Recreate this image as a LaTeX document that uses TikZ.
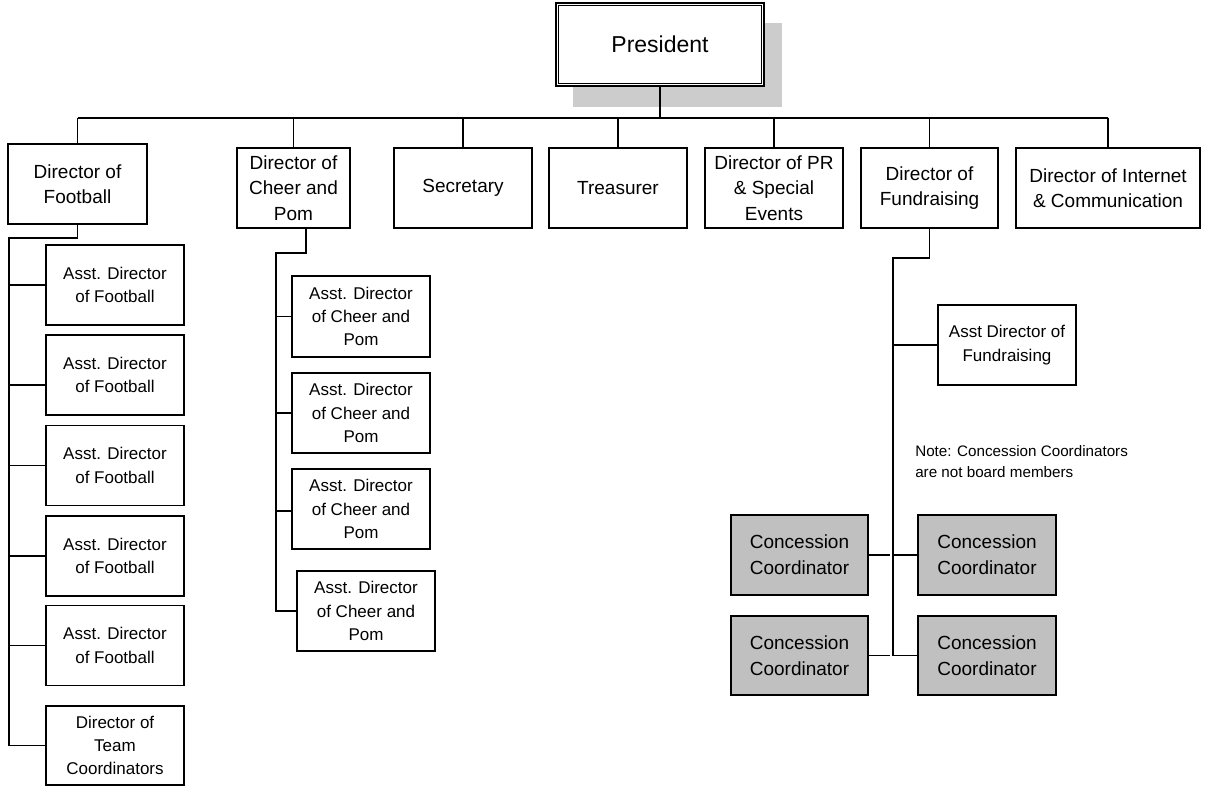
\documentclass[tikz,border=0pt]{standalone}
\usepackage{fontspec}
\setmainfont{Liberation Sans}
\usetikzlibrary{calc}
\definecolor{ccgray}{HTML}{C0C0C0}
\definecolor{shadowgray}{HTML}{CCCCCC}
\begin{document}
\begin{tikzpicture}[x=0.75pt,y=-0.75pt,
  wh/.style 2 args={minimum width=#1*0.75pt, minimum height=#2*0.75pt},
  box/.style={draw, line width=0.8pt, align=center, inner sep=0pt, fill=white,
    font=\fontsize{14.25}{19}\selectfont},
  subbox/.style={box, font=\fontsize{12.75}{17.5}\selectfont},
  conc/.style={box, fill=ccgray, font=\fontsize{14.25}{19.3}\selectfont},
  conn/.style={line width=0.8pt}]
\useasboundingbox (0,0) rectangle (1206,786);
% president with shadow
\fill[shadowgray] (573,23) rectangle (782,107);
\node[box, wh={208}{83}, font=\fontsize{17.25}{20}\selectfont] (pres) at (660,44.5) {President};
\draw[conn] ([shift={(3,3)}]pres.north west) rectangle ([shift={(-3,-3)}]pres.south east);
% top level
\node[box, wh={139}{80}] (fb)  at (77.5,184) {Director of\\Football};
\node[box, wh={113}{80}] (ch)  at (293.5,188) {Director of\\Cheer and\\Pom};
\node[box, wh={138}{80}] (sec) at (463,188) {Secretary};
\node[box, wh={138}{80}] (tre) at (618,188) {Treasurer};
\node[box, wh={138}{80}] (pr)  at (774,188) {Director of PR\\\& Special\\Events};
\node[box, wh={137}{80}] (fr)  at (929.5,188) {Director of\\Fundraising};
\node[box, wh={184}{80}] (net) at (1108,188) {Director of Internet\\\& Communication};
% bus
\coordinate (busL) at (77.5,118);
\coordinate (busR) at (1108,118);
\draw[conn] (busL) -- (busR);
\draw[conn] (pres.south) -- (pres.south |- busL);
\foreach \n in {fb,ch,sec,tre,pr,fr,net}{
  \draw[conn] (\n.north) -- (\n.north |- busL);
}
% football children
\node[subbox, wh={138}{80}] (f1) at (115,285) {Asst. Director\\of Football};
\node[subbox, wh={138}{80}] (f2) at (115,375) {Asst. Director\\of Football};
\node[subbox, wh={138}{80}] (f3) at (115,465.5) {Asst. Director\\of Football};
\node[subbox, wh={138}{80}] (f4) at (115,556) {Asst. Director\\of Football};
\node[subbox, wh={138}{80}] (f5) at (115,645.5) {Asst. Director\\of Football};
\node[subbox, wh={138}{79}] (f6) at (115,745.5) {Director of\\Team\\Coordinators};
\coordinate (fbk) at (9,238);
\draw[conn] (fb.south) |- (fbk) -- (fbk |- f6.west) -- (f6.west);
\foreach \n in {f1,f3,f4,f5}{
  \draw[conn] (fbk |- \n.west) -- (\n.west);
}
\draw[conn] (fbk |- {$(f2.west)+(0,10)$}) -- ($(f2.west)+(0,10)$);
% cheer children
\node[subbox, wh={138}{81}] (c1) at (361,316.5) {Asst. Director\\of Cheer and\\Pom};
\node[subbox, wh={138}{80}] (c2) at (361,413) {Asst. Director\\of Cheer and\\Pom};
\node[subbox, wh={138}{80}] (c3) at (361,509) {Asst. Director\\of Cheer and\\Pom};
\node[subbox, wh={138}{80}] (c4) at (366,611) {Asst. Director\\of Cheer and\\Pom};
\coordinate (chk) at (276,253);
\draw[conn] ($(ch.south)+(12.5,0)$) |- (chk) -- (chk |- c4.west) -- (c4.west);
\foreach \n in {c1,c2}{
  \draw[conn] (chk |- \n.west) -- (\n.west);
}
\draw[conn] (chk |- {$(c3.west)+(0,2)$}) -- ($(c3.west)+(0,2)$);
% fundraising children
\node[subbox, wh={138}{80}] (af) at (1007,345) {Asst Director of\\Fundraising};
\node[anchor=west, align=left, inner sep=0pt, font=\fontsize{11.4}{15.75}\selectfont] (note) at (915,461.5)
  {Note: Concession Coordinators\\are not board members};
\node[conc, wh={137}{80}] (cc1) at (799.5,555) {Concession\\Coordinator};
\node[conc, wh={138}{80}] (cc2) at (987,555) {Concession\\Coordinator};
\node[conc, wh={137}{79}] (cc3) at (799.5,655.5) {Concession\\Coordinator};
\node[conc, wh={138}{79}] (cc4) at (987,655.5) {Concession\\Coordinator};
\coordinate (frk) at (893,258);
\draw[conn] (fr.south) |- (frk) -- (frk |- cc4.west) -- (cc4.west);
\draw[conn] (frk |- af.west) -- (af.west);
\draw[conn] (frk |- cc2.west) -- (cc2.west);
\draw[conn] (cc1.east) -- ($(frk |- cc1.east)+(-3,0)$);
\draw[conn] (cc3.east) -- ($(frk |- cc3.east)+(-3,0)$);
\end{tikzpicture}
\end{document}
